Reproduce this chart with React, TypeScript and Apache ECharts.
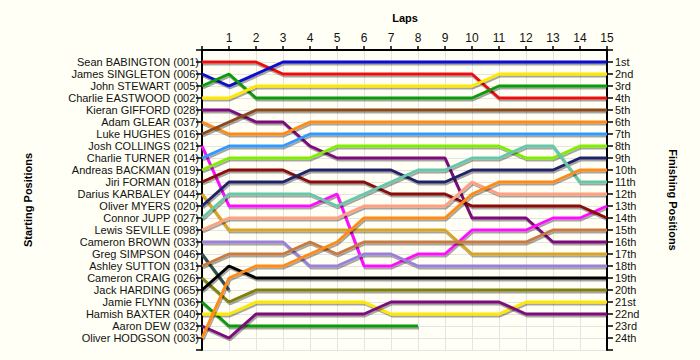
import React, { useEffect, useRef } from "react";
import * as echarts from "echarts";

const laps = [0, 1, 2, 3, 4, 5, 6, 7, 8, 9, 10, 11, 12, 13, 14, 15];
const startNames = [
  "Sean BABINGTON (001)", "James SINGLETON (006)", "John STEWART (005)", "Charlie EASTWOOD (002)",
  "Kieran GIFFORD (028)", "Adam GLEAR (037)", "Luke HUGHES (016)", "Josh COLLINGS (021)",
  "Charlie TURNER (014)", "Andreas BACKMAN (019)", "Jiri FORMAN (018)", "Darius KARBALEY (044)",
  "Oliver MYERS (020)", "Connor JUPP (027)", "Lewis SEVILLE (098)", "Cameron BROWN (033)",
  "Greg SIMPSON (046)", "Ashley SUTTON (031)", "Cameron CRAIG (026)", "Jack HARDING (065)",
  "Jamie FLYNN (036)", "Hamish BAXTER (040)", "Aaron DEW (032)", "Oliver HODGSON (003)",
];
const finishLabels = [
  "1st", "2nd", "3rd", "4th", "5th", "6th", "7th", "8th", "9th", "10th", "11th", "12th",
  "13th", "14th", "15th", "16th", "17th", "18th", "19th", "20th", "21st", "22nd", "23rd", "24th",
];

const seanBabington = [1, 1, 1, 2, 2, 2, 2, 2, 2, 2, 2, 4, 4, 4, 4, 4];
const jamesSingleton = [2, 3, 2, 1, 1, 1, 1, 1, 1, 1, 1, 1, 1, 1, 1, 1];
const johnStewart = [3, 2, 4, 4, 4, 4, 4, 4, 4, 4, 4, 3, 3, 3, 3, 3];
const charlieEastwood = [4, 4, 3, 3, 3, 3, 3, 3, 3, 3, 3, 2, 2, 2, 2, 2];
const kieranGifford = [5, 5, 6, 6, 8, 9, 9, 9, 9, 9, 14, 14, 14, 16, 16, 16];
const adamGlear = [6, 7, 7, 7, 6, 6, 6, 6, 6, 6, 6, 6, 6, 6, 6, 6];
const lukeHughes = [7, 6, 5, 5, 5, 5, 5, 5, 5, 5, 5, 5, 5, 5, 5, 5];
const joshCollings = [8, 13, 13, 13, 13, 12, 18, 18, 17, 17, 15, 15, 15, 14, 14, 13];
const charlieTurner = [9, 8, 8, 8, 7, 7, 7, 7, 7, 7, 7, 7, 7, 7, 7, 7];
const andreasBackman = [10, 9, 9, 9, 9, 8, 8, 8, 8, 8, 8, 8, 9, 9, 8, 8];
const jiriForman = [11, 10, 10, 10, 11, 11, 11, 12, 12, 12, 13, 13, 13, 13, 13, 14];
const dariusKarbaley = [12, 15, 15, 15, 15, 15, 15, 15, 15, 15, 17, 17, 17, 17, 17, 17];
const oliverMyers = [13, 11, 11, 11, 10, 10, 10, 10, 11, 11, 10, 10, 10, 10, 9, 9];
const connorJupp = [14, 12, 12, 12, 12, 13, 12, 11, 10, 10, 9, 9, 8, 8, 11, 11];
const lewisSeville = [15, 14, 14, 14, 14, 14, 13, 13, 13, 13, 11, 12, 12, 12, 12, 12];
const cameronBrown = [16, 16, 16, 16, 18, 18, 17, 17, 18, 18, 18, 18, 18, 18, 18, 18];
const gregSimpson = [17, 20];
const ashleySutton = [18, 17, 17, 17, 16, 17, 16, 16, 16, 16, 16, 16, 16, 15, 15, 15];
const cameronCraig = [19, 21, 20, 20, 20, 20, 20, 20, 20, 20, 20, 20, 20, 20, 20, 20];
const jackHarding = [20, 18, 19, 19, 19, 19, 19, 19, 19, 19, 19, 19, 19, 19, 19, 19];
const jamieFlynn = [21, 23, 23, 23, 23, 23, 23, 23, 23];
const hamishBaxter = [22, 22, 21, 21, 21, 21, 21, 22, 22, 22, 22, 22, 21, 21, 21, 21];
const aaronDew = [23, 24, 22, 22, 22, 22, 22, 21, 21, 21, 21, 21, 22, 22, 22, 22];
const oliverHodgson = [24, 19, 18, 18, 17, 16, 14, 14, 14, 14, 12, 11, 11, 11, 10, 10];

const driverPositions = [
  seanBabington, jamesSingleton, johnStewart, charlieEastwood, kieranGifford, adamGlear,
  lukeHughes, joshCollings, charlieTurner, andreasBackman, jiriForman, dariusKarbaley,
  oliverMyers, connorJupp, lewisSeville, cameronBrown, gregSimpson, ashleySutton,
  cameronCraig, jackHarding, jamieFlynn, hamishBaxter, aaronDew, oliverHodgson,
];
const driverColors = [
  "#ee1111", "#0a0acc", "#0a9a0a", "#ffe800", "#7a0a7a", "#ff8a14", "#8a4a1a", "#ff10ff",
  "#3399ff", "#80ee00", "#880808", "#d8a428", "#20206a", "#66c8a8", "#ffa080", "#9a80d8",
  "#2f4f4f", "#c87a40", "#808010", "#000000", "#0a9a0a", "#ffe800", "#7a0a7a", "#ff8a14",
];

const FONT = "'Liberation Sans', Arial, sans-serif";

export default function App() {
  const ref = useRef<HTMLDivElement>(null);
  useEffect(() => {
    if (!ref.current) return;
    const chart = echarts.init(ref.current, null, { renderer: "svg" });
    const series = driverPositions.map((pos, i) => ({
      type: "line",
      name: startNames[i],
      data: pos.map((p, k) => [laps[k], p]),
      showSymbol: false,
      symbol: "none",
      yAxisIndex: 0,
      lineStyle: {
        color: driverColors[i],
        width: 3,
        shadowColor: "rgba(0,0,0,0.35)",
        shadowOffsetX: 1,
        shadowOffsetY: 2,
        shadowBlur: 0,
      },
      itemStyle: { color: driverColors[i] },
      z: 10 + i,
    }));
    const gridLine = { show: true, lineStyle: { color: "#e4e4e4", width: 1 } };
    const axisCommon = {
      type: "value",
      min: 0,
      max: 25,
      interval: 1,
      inverse: true,
      axisLine: { show: true, onZero: false, lineStyle: { color: "#000", width: 2 } },
      axisTick: { show: true, length: 6, lineStyle: { color: "#000", width: 1.5 } },
    };
    chart.setOption({
      animation: false,
      backgroundColor: "#fffff5",
      textStyle: { fontFamily: FONT },
      grid: { left: 202, right: 93, top: 50, bottom: 10, containLabel: false },
      xAxis: {
        type: "value",
        position: "top",
        min: 0,
        max: 15,
        interval: 1,
        axisLine: { show: true, lineStyle: { color: "#000", width: 2 } },
        axisTick: { show: true, length: 4, lineStyle: { color: "#000", width: 1.5 } },
        axisLabel: {
          color: "#111",
          fontSize: 12,
          fontFamily: FONT,
          margin: 6,
          formatter: (v: number) => (v === 0 ? "" : String(v)),
        },
        splitLine: gridLine,
      },
      yAxis: [
        {
          ...axisCommon,
          position: "left",
          axisLabel: {
            color: "#111",
            fontSize: 11,
            fontFamily: FONT,
            margin: 3,
            formatter: (v: number) => (v >= 1 && v <= 24 ? startNames[v - 1] : ""),
          },
          splitLine: gridLine,
        },
        {
          ...axisCommon,
          position: "right",
          axisLabel: {
            color: "#111",
            fontSize: 11,
            fontFamily: FONT,
            margin: 8,
            formatter: (v: number) => (v >= 1 && v <= 24 ? finishLabels[v - 1] : ""),
          },
          splitLine: { show: false },
        },
      ],
      graphic: [
        {
          type: "text",
          x: 405,
          y: 18,
          style: {
            text: "Laps",
            font: "bold 11px " + FONT,
            fill: "#000",
            textAlign: "center",
            textVerticalAlign: "middle",
          },
        },
        {
          type: "text",
          x: 28,
          y: 200,
          rotation: Math.PI / 2,
          style: {
            text: "Starting Positions",
            font: "bold 11px " + FONT,
            fill: "#000",
            textAlign: "center",
            textVerticalAlign: "middle",
          },
        },
        {
          type: "text",
          x: 673,
          y: 200,
          rotation: -Math.PI / 2,
          style: {
            text: "Finishing Positions",
            font: "bold 11px " + FONT,
            fill: "#000",
            textAlign: "center",
            textVerticalAlign: "middle",
          },
        },
      ],
      series,
    });
    return () => chart.dispose();
  }, []);
  return <div ref={ref} style={{ width: 700, height: 360, position: "absolute", left: 0, top: 0 }} />;
}
